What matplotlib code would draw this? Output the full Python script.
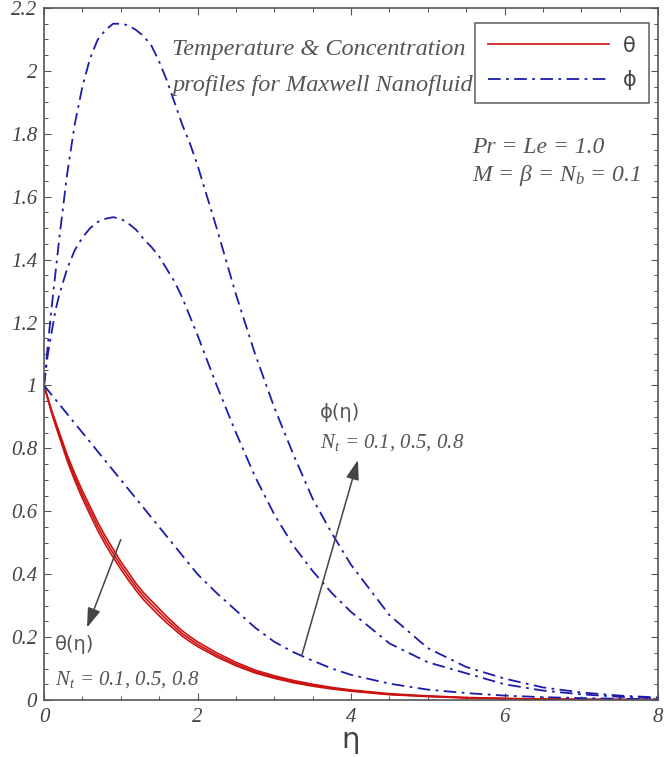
import matplotlib
matplotlib.use("Agg")
import matplotlib.pyplot as plt
from matplotlib.ticker import MultipleLocator

plt.rcParams["mathtext.fontset"] = "custom"
plt.rcParams["mathtext.rm"] = "Liberation Serif:italic"
plt.rcParams["mathtext.it"] = "Liberation Serif:italic"

# eta grid and profiles
eta = [0, 0.05, 0.1, 0.15, 0.2, 0.3, 0.4, 0.5, 0.6, 0.7, 0.8, 0.9, 1.0, 1.1, 1.2, 1.3,
       1.4, 1.5, 1.6, 1.7, 1.8, 1.9, 2.0, 2.25, 2.5, 2.75, 3.0, 3.25, 3.5, 3.75, 4.0,
       4.5, 5.0, 5.5, 6.0, 6.5, 7.0, 7.5, 8.0]

theta_01 = [1.0, 0.96, 0.92, 0.885, 0.85, 0.78, 0.72, 0.665, 0.615, 0.565, 0.52, 0.48,
            0.44, 0.405, 0.37, 0.34, 0.315, 0.29, 0.265, 0.242, 0.22, 0.202, 0.185, 0.15,
            0.12, 0.095, 0.077, 0.062, 0.05, 0.04, 0.032, 0.02, 0.013, 0.008, 0.005,
            0.003, 0.002, 0.0015, 0.001]
theta_05 = [1.0, 0.958, 0.916, 0.879, 0.843, 0.771, 0.709, 0.653, 0.602, 0.552, 0.507,
            0.467, 0.428, 0.393, 0.359, 0.329, 0.304, 0.279, 0.255, 0.233, 0.211, 0.194,
            0.177, 0.143, 0.114, 0.09, 0.073, 0.058, 0.047, 0.037, 0.03, 0.018, 0.012,
            0.007, 0.0045, 0.0027, 0.0018, 0.0013, 0.0009]
theta_08 = [1.0, 0.956, 0.912, 0.873, 0.836, 0.762, 0.698, 0.641, 0.589, 0.539, 0.494,
            0.454, 0.416, 0.381, 0.348, 0.318, 0.293, 0.268, 0.245, 0.224, 0.203, 0.186,
            0.17, 0.137, 0.109, 0.086, 0.069, 0.055, 0.044, 0.035, 0.028, 0.017, 0.011,
            0.0065, 0.004, 0.0025, 0.0016, 0.0012, 0.0008]

phi_01 = [1.0, 0.985, 0.97, 0.955, 0.94, 0.91, 0.88, 0.85, 0.82, 0.79, 0.76, 0.73, 0.70,
          0.67, 0.64, 0.61, 0.58, 0.55, 0.52, 0.49, 0.46, 0.43, 0.40, 0.34, 0.285, 0.23,
          0.185, 0.152, 0.125, 0.10, 0.08, 0.052, 0.033, 0.022, 0.014, 0.009, 0.006,
          0.004, 0.002]
phi_05 = [1.0, 1.10, 1.17, 1.24, 1.29, 1.37, 1.43, 1.47, 1.50, 1.52, 1.53, 1.535, 1.53,
          1.515, 1.495, 1.465, 1.44, 1.41, 1.37, 1.33, 1.28, 1.22, 1.16, 1.00, 0.85, 0.71,
          0.59, 0.49, 0.41, 0.34, 0.28, 0.18, 0.12, 0.085, 0.05, 0.03, 0.018, 0.01, 0.006]
phi_08 = [1.0, 1.13, 1.25, 1.36, 1.47, 1.67, 1.83, 1.95, 2.04, 2.10, 2.13, 2.15, 2.15,
          2.145, 2.13, 2.11, 2.08, 2.03, 1.97, 1.90, 1.83, 1.77, 1.70, 1.50, 1.29, 1.10,
          0.93, 0.78, 0.64, 0.53, 0.43, 0.27, 0.165, 0.105, 0.068, 0.04, 0.024, 0.014,
          0.008]

red = "#cc1111"
blue = "#1c1ca8"
grey = "#555555"
dashdot = (0, (7, 3, 1.5, 3))
serif = "Liberation Serif"

fig = plt.figure(figsize=(6.64, 7.57), dpi=100)
ax = fig.add_axes([0.0663, 0.0753, 0.9247, 0.9141])

for th in (theta_01, theta_05, theta_08):
    ax.plot(eta, th, color=red, lw=1.2)
for ph in (phi_01, phi_05, phi_08):
    ax.plot(eta, ph, color=blue, lw=1.3, linestyle=dashdot)

ax.set_xlim(0, 8)
ax.set_ylim(0, 2.2)
ax.xaxis.set_major_locator(MultipleLocator(2))
ax.xaxis.set_minor_locator(MultipleLocator(0.5))
ax.yaxis.set_major_locator(MultipleLocator(0.2))
ax.yaxis.set_minor_locator(MultipleLocator(0.05))
ax.tick_params(which="both", direction="in", top=True, right=True, color=grey,
               labelcolor="#444444")
ax.tick_params(which="major", length=5, width=0.8)
ax.tick_params(which="minor", length=3, width=0.7)
for s in ax.spines.values():
    s.set_color(grey)
    s.set_linewidth(1.2)

yt = [i * 0.2 for i in range(12)]
ax.set_yticks(yt)
ax.set_yticklabels(["0"] + ["%g" % round(v, 1) for v in yt[1:]], fontfamily=serif,
                   fontstyle="italic", fontsize=15)
ax.set_xticks([0, 2, 4, 6, 8])
ax.set_xticklabels(["0", "2", "4", "6", "8"], fontfamily=serif, fontstyle="italic",
                   fontsize=15)
ax.set_ylim(0, 2.2)
ax.tick_params(axis="y", pad=5)
ax.tick_params(axis="x", pad=6)
ax.set_xlabel("η", fontsize=21, color="#444444", fontfamily="DejaVu Sans")
ax.xaxis.set_label_coords(0.5, -0.038)

# legend
leg = ax.legend([ax.lines[0], ax.lines[3]], ["θ", "ϕ"], loc="upper right",
                bbox_to_anchor=(0.986, 0.978), borderaxespad=0, handlelength=5.8,
                handletextpad=0.7, fontsize=15, frameon=True, fancybox=False,
                edgecolor="#444444", labelspacing=0.7, borderpad=0.6)
leg.get_frame().set_linewidth(1.2)
for t in leg.get_texts():
    t.set_color("#444444")

tkw = dict(fontfamily=serif, fontstyle="italic", color="#555555")
ax.text(1.67, 2.067, "Temperature & Concentration", fontsize=17.5, ha="left", va="center", **tkw)
ax.text(1.67, 1.955, "profiles for Maxwell Nanofluid", fontsize=17.5, ha="left", va="center", **tkw)
ax.text(5.58, 1.755, "Pr = Le = 1.0", fontsize=17, ha="left", va="center", **tkw)
ax.text(5.58, 1.669, r"M = β = N$_b$ = 0.1", fontsize=17, ha="left", va="center", **tkw)

ax.text(3.6, 0.915, "ϕ(η)", fontsize=14, ha="left", va="center", color="#555555")
ax.text(3.6, 0.82, r"N$_t$ = 0.1, 0.5, 0.8", fontsize=15, ha="left", va="center", **tkw)
ax.text(0.14, 0.175, "θ(η)", fontsize=14, ha="left", va="center", color="#555555")
ax.text(0.14, 0.065, r"N$_t$ = 0.1, 0.5, 0.8", fontsize=15, ha="left", va="center", **tkw)

akw = dict(arrowstyle="-|>,head_length=1.2,head_width=0.4", color="#444444", lw=1.1,
           shrinkA=0, shrinkB=0)
ax.annotate("", xy=(0.56, 0.23), xytext=(1.0, 0.51), arrowprops=akw)
ax.annotate("", xy=(4.09, 0.763), xytext=(3.36, 0.143), arrowprops=akw)

fig.savefig("out.png", dpi=100)
